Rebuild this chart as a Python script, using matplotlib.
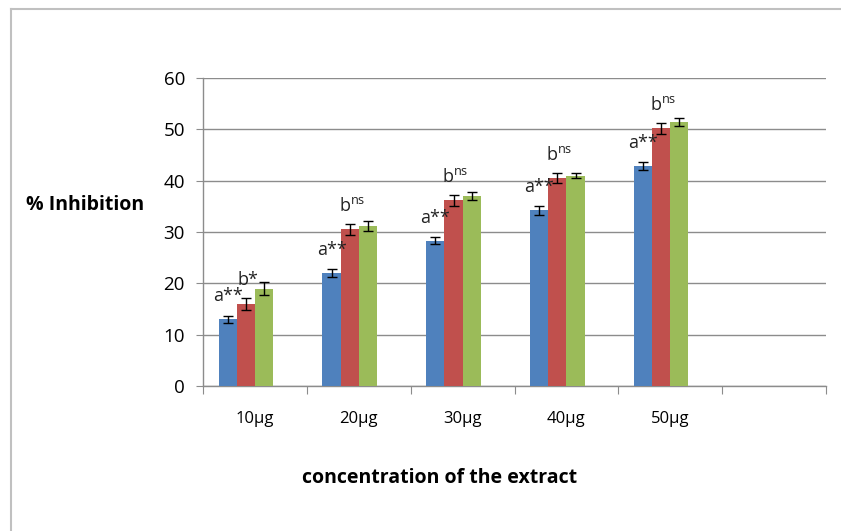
import numpy as np
import matplotlib
matplotlib.use("Agg")
import matplotlib.pyplot as plt
from matplotlib.lines import Line2D

plt.rcParams['font.family'] = ['Open Sans', 'DejaVu Sans']
plt.rcParams['mathtext.fontset'] = 'custom'
plt.rcParams['mathtext.rm'] = 'Open Sans'

categories = ['10µg', '20µg', '30µg', '40µg', '50µg']
blue_vals = [13.0, 22.0, 28.3, 34.2, 42.8]
red_vals = [16.0, 30.5, 36.2, 40.5, 50.2]
green_vals = [19.0, 31.2, 37.0, 41.0, 51.5]
blue_err = [0.7, 0.8, 0.7, 0.8, 0.8]
red_err = [1.2, 1.1, 1.1, 1.0, 1.1]
green_err = [1.2, 0.9, 0.8, 0.5, 0.8]
a_labels = ['a**', 'a**', 'a**', 'a**', 'a**']
b_labels = ['b*', r'b$^{\mathrm{ns}}$', r'b$^{\mathrm{ns}}$', r'b$^{\mathrm{ns}}$', r'b$^{\mathrm{ns}}$']

colors = ['#4F81BD', '#C0504D', '#9BBB59']
n_slots = 6

fig = plt.figure(figsize=(8.41, 5.31), dpi=100)
ax = fig.add_axes([0.2414, 0.273, 0.7408, 0.580])

x = np.arange(len(categories)) + 0.5
w = 0.175
ekw = dict(ecolor='black', elinewidth=1.0, capsize=3.5, capthick=1.0)
# groups sit left of centre (room for a fourth, empty series)
for i, (vals, errs) in enumerate([(blue_vals, blue_err), (red_vals, red_err), (green_vals, green_err)]):
    ax.bar(x + (i - 1.5) * w, vals, w, color=colors[i], yerr=errs, error_kw=ekw, zorder=3)

for xi, bv, be, rv, re_, la, lb in zip(x, blue_vals, blue_err, red_vals, red_err, a_labels, b_labels):
    ax.annotate(la, (xi - 1.5 * w, bv + be), xytext=(0, 14), textcoords='offset points',
                ha='center', va='center', fontsize=13, color='#222222')
    ax.annotate(lb, (xi - 0.5 * w + 0.02, rv + re_), xytext=(0, 13), textcoords='offset points',
                ha='center', va='center', fontsize=13, color='#222222')

ax.set_xlim(0, n_slots)
ax.set_ylim(0, 60)
ax.set_yticks(np.arange(0, 61, 10))
ax.yaxis.grid(True, color='#8c8c8c', linewidth=1.0, zorder=0)
ax.set_xticks(np.arange(0, n_slots + 1))
ax.set_xticklabels([])
ax.set_xticks(x, minor=True)
ax.set_xticklabels(categories, minor=True)
ax.tick_params(axis='x', which='major', length=6, color='#8c8c8c', direction='out')
ax.tick_params(axis='x', which='minor', length=0, pad=18, labelsize=12)
ax.tick_params(axis='y', length=5, color='#8c8c8c', labelsize=13.5, pad=8)
for s in ['top', 'right']:
    ax.spines[s].set_visible(False)
for s in ['left', 'bottom']:
    ax.spines[s].set_color('#8c8c8c')
    ax.spines[s].set_linewidth(1.0)

fig.text(0.031, 0.613, '% Inhibition', fontsize=14, fontweight='bold', ha='left', va='center')
fig.text(0.523, 0.099, 'concentration of the extract', fontsize=14, fontweight='bold', ha='center', va='center')

fig.add_artist(Line2D([11 / 841, 1.0], [1 - 9 / 531, 1 - 9 / 531], transform=fig.transFigure, color='#c0c0c0', linewidth=1.5))
fig.add_artist(Line2D([11 / 841, 11 / 841], [0.0, 1 - 9 / 531], transform=fig.transFigure, color='#c0c0c0', linewidth=1.5))

fig.savefig('out.png', dpi=100)
